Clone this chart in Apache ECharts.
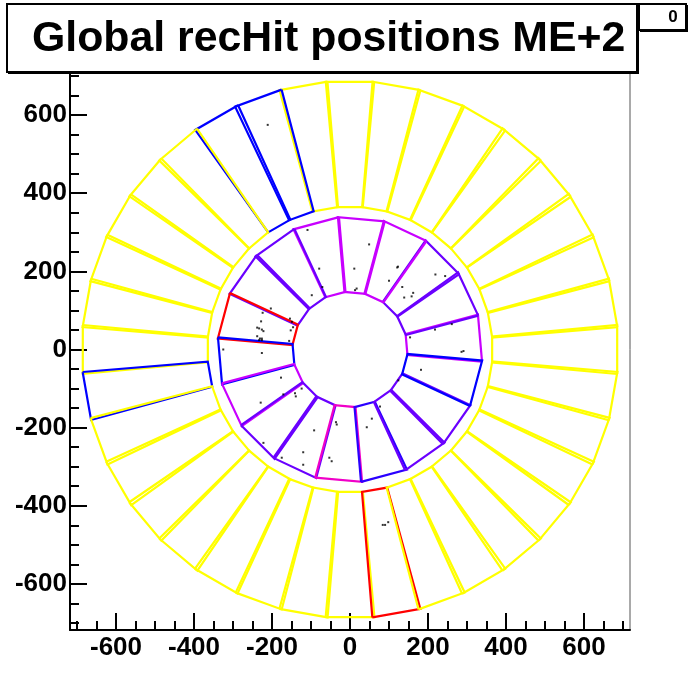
<!DOCTYPE html>
<html>
<head>
<meta charset="utf-8">
<style>html,body{margin:0;padding:0;background:#fff}#c{width:700px;height:700px}</style>
<script src="https://cdn.jsdelivr.net/npm/echarts@6/dist/echarts.min.js"></script>
</head>
<body>
<div id="c"></div>
<script>
const majorTicks = [-600,-400,-200,0,200,400,600];
const minorTicks = [-700,-650,-550,-500,-450,-350,-300,-250,-150,-100,-50,50,100,150,250,300,350,450,500,550,650,700];

// Outer ring: 36 chambers, boundary angles (deg) and how far neighbouring edges part at rim / hub
const outerRadii = {rim: 688, hub: 366};
const outerBounds = [5,15,25,35,45,55,65,75,85,95,105,115,125,135,145,155,165,175,185,195,205,215,225,235,245,255,265,275,285,295,305,315,325,335,345,355];
const outerSepRim = [.45,.55,.65,.75,.75,.7,.45,.45,.35,.35,.45,.7,.45,.6,.55,.55,.55,.45,.4,.4,.65,.75,.65,.65,.45,.5,.4,.45,.4,.6,.7,.65,.7,.65,.55,.45];
const outerSepHub = [.35,.35,.3,.1,.05,.1,.3,.35,.25,.35,.5,.55,0,.1,.35,.35,.35,.35,.3,.25,.35,.2,.05,.1,.45,.3,.45,.35,.2,.3,.2,.1,.2,.45,.45,.45];
const Y='#ffff00',B='#0000ff',R='#ff0000',V='#6a00ff',M='#c800ff',P='#f000c8',L='#2a00ff';
const outerColors = [Y,Y,Y,Y,Y,Y,Y,Y,Y,Y,B,B,Y,Y,Y,Y,Y,Y,B,Y,Y,Y,Y,Y,Y,Y,Y,R,Y,Y,Y,Y,Y,Y,Y,Y];

// Inner ring: 18 chambers
const innerRadii = {rim: 340, hub: 148};
const innerBounds = [-5,15,35,55,75,95,115,135,155,175,195,215,235,255,275,295,315,335];
const innerSepRim = [.45,.45,.9,.45,.45,.45,.45,.85,.45,.45,.45,.55,.65,.45,.45,.85,.85,.45];
const innerSepHub = [1,1,.7,.7,1,1,.7,1.2,1,1,1,1,1.5,1,1,1,1.2,1];
const innerColors = [M,V,V,M,M,M,V,V,R,B,M,V,V,P,L,V,V,B];

// recHit positions
const hitX = [-211,-109,-79,-71,-98,-203,-224,-154,-228,-149,-238,-233,-226,-222,-152,-146,-238,-231,-226,-233,-226,-156,-325,-226,49,11,123,121,219,244,100,134,162,158,139,17,13,218,261,154,291,286,-177,-171,-141,-139,-124,-229,-222,-92,-175,-120,-120,-53,-47,-36,-34,182,124,77,56,43,84,90,98];
const hitY = [575,306,207,160,139,105,94,79,72,71,56,54,51,47,49,57,34,28,28,24,24,22,0,-9,269,207,212,210,192,188,176,160,145,136,133,156,152,51,65,31,-4,-6,-72,-115,-112,-120,-100,-136,-239,-207,-277,-263,-295,-277,-286,-186,-192,-52,-79,-146,-177,-199,-449,-449,-442];

const titleText = 'Global recHit positions ME+2';
const statsText = '0';
const axisRange = 718;
const labelFont = 'Liberation Sans';

function polarPoint(r, deg){ const a = deg*Math.PI/180; return [r*Math.cos(a), r*Math.sin(a)]; }
function ringSeries(radii, bounds, sepRim, sepHub, colors){
  const n = bounds.length;
  return bounds.map((b,i)=>{
    const j = (i+1)%n, e = bounds[j];
    const pts = [
      polarPoint(radii.rim, b - sepRim[i]/2),
      polarPoint(radii.rim, e + sepRim[j]/2),
      polarPoint(radii.hub, e + sepHub[j]/2),
      polarPoint(radii.hub, b - sepHub[i]/2)
    ];
    pts.push(pts[0]);
    return {type:'line',data:pts,showSymbol:false,symbol:'none',silent:true,clip:false,
      lineStyle:{color:colors[i],width:2.2,join:'miter'},xAxisIndex:0,yAxisIndex:0,animation:false};
  });
}

const chart = echarts.init(document.getElementById('c'),null,{renderer:'canvas'});
const axisCommon = {type:'value',min:-axisRange,max:axisRange,splitLine:{show:false}};
const mainAxis = Object.assign({},axisCommon,{
  axisLine:{show:true,onZero:false,lineStyle:{color:'#000',width:2}},
  axisTick:{show:true,inside:true,length:17,customValues:majorTicks,lineStyle:{color:'#000',width:2}},
  axisLabel:{show:true,customValues:majorTicks,color:'#000',fontFamily:labelFont,fontWeight:'bold',fontSize:26,margin:3}
});
const minorAxis = Object.assign({},axisCommon,{
  axisLine:{show:false,onZero:false},
  axisTick:{show:true,inside:true,length:9,customValues:minorTicks,lineStyle:{color:'#000',width:2}},
  axisLabel:{show:false}
});

chart.setOption({
  animation:false,
  backgroundColor:'#fff',
  grid:{left:70,right:70,top:69,bottom:70,show:true,borderColor:'#555',borderWidth:1,backgroundColor:'transparent'},
  xAxis:[Object.assign({},mainAxis,{position:'bottom',axisLabel:Object.assign({},mainAxis.axisLabel,{margin:5})}),Object.assign({},minorAxis,{position:'bottom'})],
  yAxis:[Object.assign({},mainAxis,{position:'left'}),Object.assign({},minorAxis,{position:'left'})],
  title:{text:titleText,left:27,top:13,z:300,textStyle:{fontFamily:labelFont,fontWeight:'bold',fontSize:42.8,color:'#000'}},
  series:[
    ...ringSeries(outerRadii,outerBounds,outerSepRim,outerSepHub,outerColors),
    ...ringSeries(innerRadii,innerBounds,innerSepRim,innerSepHub,innerColors),
    {type:'scatter',data:hitX.map((x,i)=>[x,hitY[i]]),symbol:'rect',symbolSize:2,silent:true,itemStyle:{color:'#000'},z:5}
  ],
  graphic:[
    {type:'rect',z:90,shape:{x:640,y:5,width:48,height:27},style:{fill:'#000'}},
    {type:'rect',z:91,shape:{x:639,y:4,width:47,height:26},style:{fill:'#fff',stroke:'#000',lineWidth:2}},
    {type:'text',z:92,x:673,y:17,style:{text:statsText,fontFamily:labelFont,fontWeight:'bold',fontSize:17,fill:'#000',align:'center',verticalAlign:'middle'}},
    {type:'rect',z:95,shape:{x:8,y:5,width:631,height:69},style:{fill:'#000'}},
    {type:'rect',z:96,shape:{x:7,y:4,width:630,height:68},style:{fill:'#fff',stroke:'#000',lineWidth:2}}
  ]
});
</script>
</body>
</html>
